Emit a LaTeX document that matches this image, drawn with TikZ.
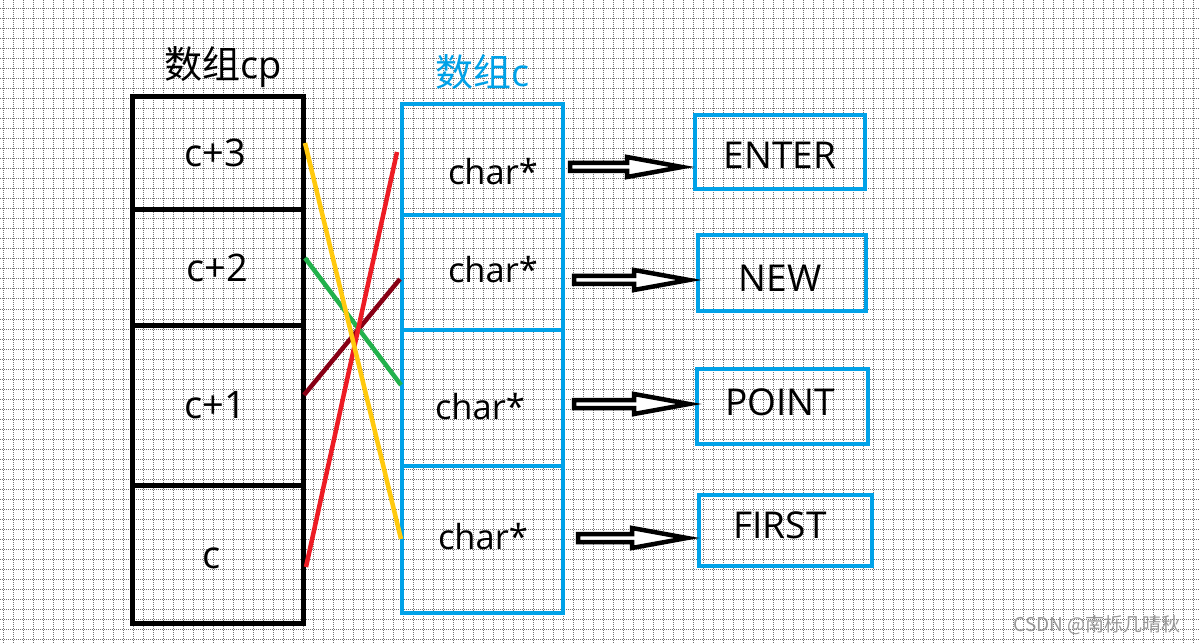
\documentclass[tikz,border=0pt]{standalone}
\usepackage{fontspec}
\setmainfont{Open Sans}
\newfontfamily\cjk{Noto Sans CJK SC}
\usetikzlibrary{calc}
\definecolor{pblue}{HTML}{00A2E8}
\definecolor{pyellow}{HTML}{FFC90E}
\definecolor{pgreen}{HTML}{22B14C}
\definecolor{pred}{HTML}{ED1C24}
\definecolor{pdark}{HTML}{880015}
\newcommand\hollowarrow[2]{%
  \draw[harrow] let \p1=(#1), \p2=(#2), \n1={\x2-55pt} in
    (\x1,\y1+4pt) -- (\n1,\y1+4pt) -- (\n1,\y1+10pt) -- (\x2,\y1)
    -- (\n1,\y1-10pt) -- (\n1,\y1-4pt) -- (\x1,\y1-4pt) -- cycle;}
\begin{document}
\begin{tikzpicture}[x=1pt,y=-1pt,
  gridline/.style={black!55, line width=1pt, dash pattern=on 1pt off 1pt},
  cpcell/.style={draw=black, line width=5pt, minimum width=171pt, inner sep=0pt, outer sep=0pt},
  ccell/.style={draw=pblue, line width=4.5pt, minimum width=161pt, inner sep=0pt, outer sep=0pt},
  strbox/.style={draw=pblue, line width=4.5pt, inner sep=0pt, outer sep=0pt},
  cplbl/.style={font=\fontsize{38}{42}\selectfont, inner sep=0pt},
  charlbl/.style={font=\fontsize{34.5}{38}\selectfont, inner sep=0pt},
  strlbl/.style={font=\fontsize{37}{40}\selectfont, inner sep=0pt},
  title/.style={font=\fontsize{38}{40}\selectfont, inner sep=0pt},
  cross/.style={line width=4.5pt},
  harrow/.style={draw=black, fill=white, line width=4.5pt, line join=miter}
]
\fill[white] (0,0) rectangle (1199,644);
\useasboundingbox (0,0) rectangle (1199,644);
% grid
\foreach \x in {3,13,...,1199} \draw[gridline] (\x,0) -- (\x,644);
\foreach \y in {9,19,...,644} \draw[gridline] (0,\y) -- (1199,\y);

% titles
\node[title] (tcp) at (223,67) {{\cjk 数组}cp};
\node[title, text=pblue] (tc) at (483,72) {{\cjk 数组}c};

% array cp
\node[cpcell, minimum height=113pt] (cp3) at (217.5,153.5) {};
\node[cpcell, minimum height=115pt] (cp2) at (217.5,267.5) {};
\node[cpcell, minimum height=160pt] (cp1) at (217.5,405) {};
\node[cpcell, minimum height=138pt] (cp0) at (217.5,554) {};
\node[cplbl] (l3) at (215,153) {c+3};
\node[cplbl] (l2) at (217,268) {c+2};
\node[cplbl] (l1) at (215,405) {c+1};
\node[cplbl] (l0) at (212,558) {c};

% array c
\node[ccell, minimum height=111pt] (c3) at (482.5,159.5) {};
\node[ccell, minimum height=115pt] (c2) at (482.5,272.5) {};
\node[ccell, minimum height=136pt] (c1) at (482.5,398) {};
\node[ccell, minimum height=147pt] (c0) at (482.5,539.5) {};
\node[charlbl] (k3) at (493,172) {char*};
\node[charlbl] (k2) at (493,270) {char*};
\node[charlbl] (k1) at (480,407) {char*};
\node[charlbl] (k0) at (483,537) {char*};

% strings
\node[strbox, minimum width=170pt, minimum height=74pt] (s3) at (780,152) {};
\node[strbox, minimum width=168pt, minimum height=76pt] (s2) at (782,273) {};
\node[strbox, minimum width=171pt, minimum height=75pt] (s1) at (782.5,406.5) {};
\node[strbox, minimum width=173pt, minimum height=71pt] (s0) at (785.5,530.5) {};
\node[strlbl] (e3) at (780,155) {ENTER};
\node[strlbl] (e2) at (780,278) {NEW};
\node[strlbl] (e1) at (780,402) {POINT};
\node[strlbl] (e0) at (780,525) {FIRST};

% crossing pointers
\coordinate (y1) at (305,143); \coordinate (y2) at (401,539);
\coordinate (g1) at (305,258); \coordinate (g2) at (401,385);
\coordinate (d1) at (304,395); \coordinate (d2) at (400,279);
\coordinate (r1) at (306,567); \coordinate (r2) at (397,152);
\draw[cross, pdark] (d1) -- (d2);
\draw[cross, pgreen] (g1) -- (g2);
\draw[cross, pred] (r1) -- (r2);
\draw[cross, pyellow] (y1) -- (y2);

% hollow arrows
\coordinate (a3s) at (570,167); \coordinate (a3e) at (682,167);
\coordinate (a2s) at (574,280); \coordinate (a2e) at (689,280);
\coordinate (a1s) at (574,404); \coordinate (a1e) at (689,404);
\coordinate (a0s) at (578,538); \coordinate (a0e) at (687,538);
\hollowarrow{a3s}{a3e}
\hollowarrow{a2s}{a2e}
\hollowarrow{a1s}{a1e}
\hollowarrow{a0s}{a0e}

% watermark
\node[font=\cjk\fontsize{19}{21}\selectfont, text=black!40, inner sep=0pt] (wm) at (1097,625) {CSDN @南栎几晴秋};
\end{tikzpicture}
\end{document}
